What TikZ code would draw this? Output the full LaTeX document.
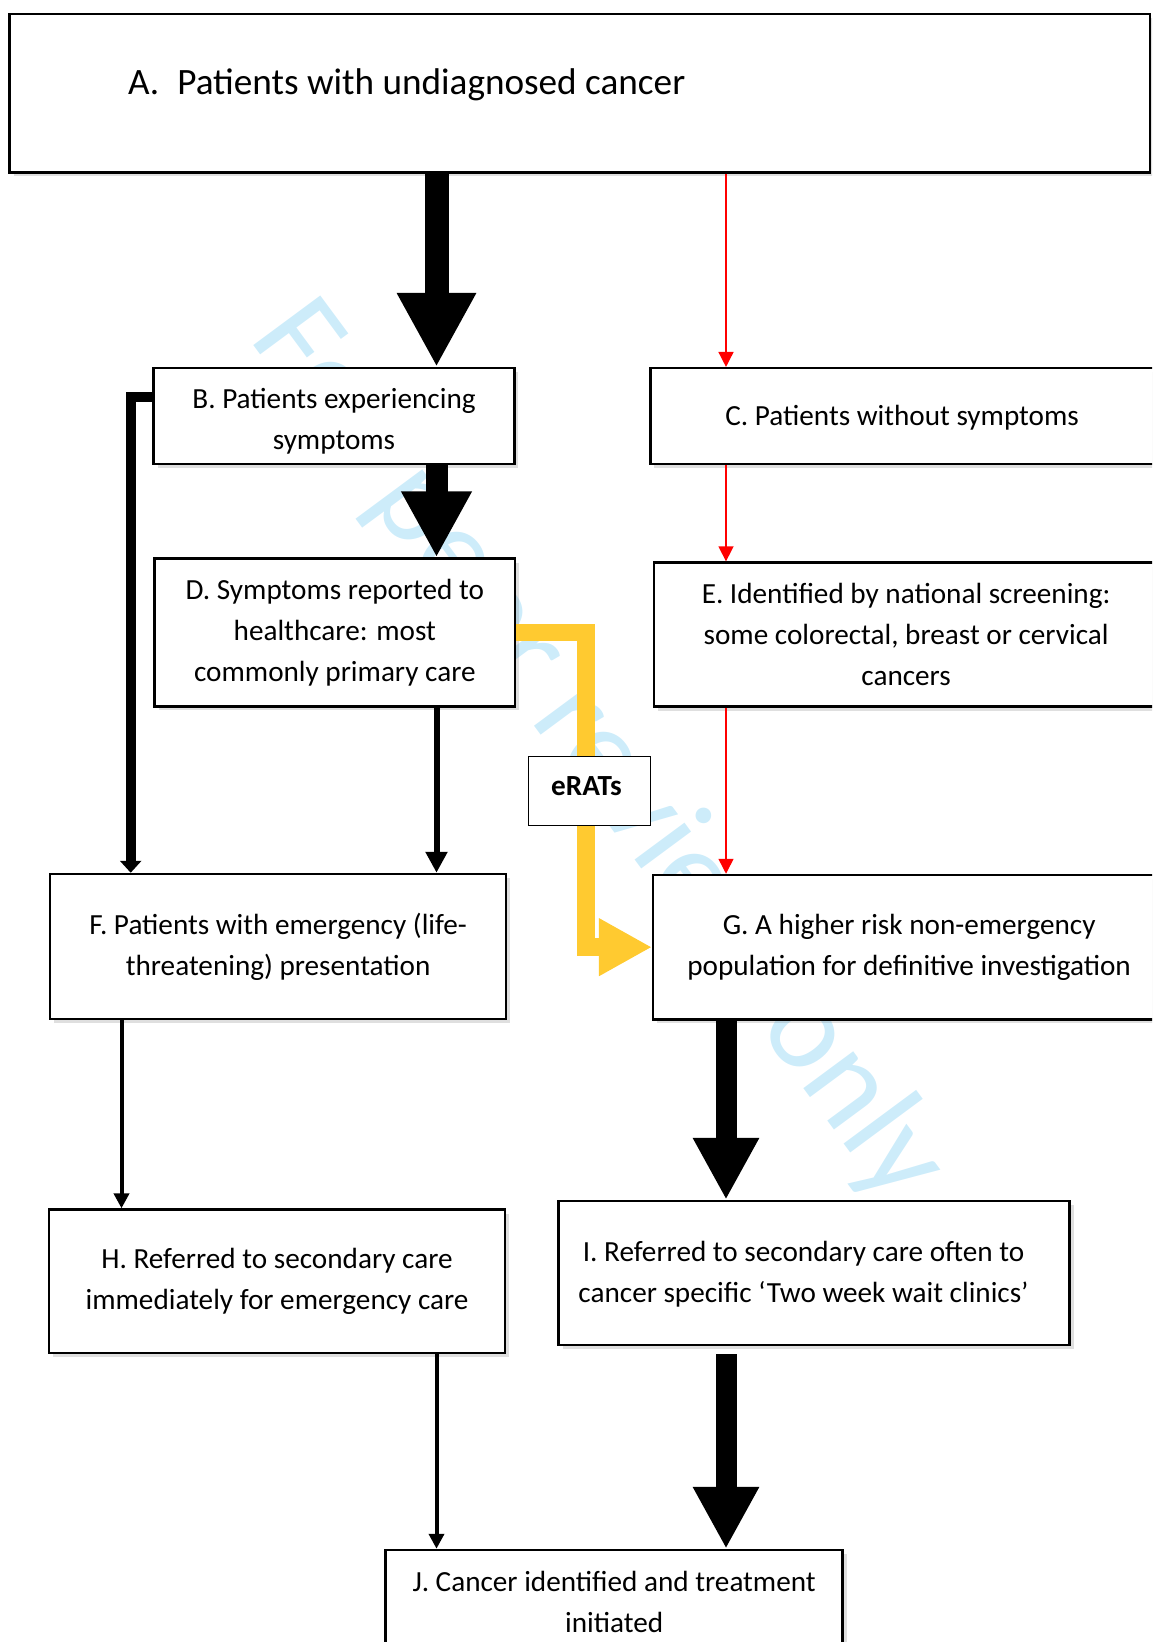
\documentclass[tikz,border=0pt]{standalone}
\usepackage{fontspec}
\setmainfont{Carlito}
\usetikzlibrary{arrows.meta, shadows}

\begin{document}
\begin{tikzpicture}[x=0.5pt, y=-0.5pt,
  box/.style={draw=black, line width=1.25pt, fill=white, inner sep=0pt,
    drop shadow={shadow xshift=2pt, shadow yshift=-2pt, opacity=0.25}},
  box_text/.style={align=center, inner sep=0pt, font=\fontsize{14.6pt}{20.4pt}\selectfont},
  big_arrow/.style 2 args={draw=black, line width=#1, -{Triangle[length=#2, width=#2]}},
  thin_arrow/.style 2 args={draw=black, line width=#1, -{Triangle[length=#2, width=#2]}},
  red_arrow/.style={draw=red, line width=0.75pt, -{Triangle[length=7.5pt, width=7.5pt]}},
  yellow_arrow/.style={draw=my_yellow, line width=8.85pt, -{Triangle[length=26.5pt, width=27pt]}}]
\definecolor{my_yellow}{RGB}{255,202,48}
\definecolor{my_blue}{RGB}{205,236,250}
\useasboundingbox (0,0) rectangle (1152,1642);
\clip (0,0) rectangle (1152,1642);
% watermark, under the boxes
\node[rotate=-53.5, anchor=base west, inner sep=0pt, text=my_blue, font=\fontsize{65pt}{65pt}\selectfont] (watermark) at (248,338) {For peer review only};
% boxes
\node[box, minimum width=570.25pt, minimum height=79.15pt] (a) at (579.75,93.15) {};
\node[box, minimum width=180.3pt, minimum height=48pt] (b) at (334,416.2) {};
\node[box, minimum width=251.85pt, minimum height=48pt] (c) at (902.15,416.2) {};
\node[box, minimum width=180.15pt, minimum height=73.85pt] (d) at (334.85,632.45) {};
\node[box, minimum width=251.9pt, minimum height=71.95pt] (e) at (906.1,634.55) {};
\node[box, minimum width=228.1pt, minimum height=72.6pt] (f) at (278.1,946.6) {};
\node[box, minimum width=255.9pt, minimum height=72.15pt] (g) at (909.1,947.15) {};
\node[box, minimum width=227.8pt, minimum height=71.75pt] (h) at (277,1281.35) {};
\node[box, minimum width=255.5pt, minimum height=72pt] (i) at (814.2,1273) {};
\node[box, minimum width=228.5pt, minimum height=51.8pt] (j) at (614.2,1601.8) {};
% texts
\node[box_text, anchor=west, font=\fontsize{18.6pt}{24pt}\selectfont] (a_text) at (127.8,85) {A.\hspace{9pt}Patients with undiagnosed cancer};
\node[box_text] (b_text) at (334,421.5) {B. Patients experiencing\\symptoms};
\node[box_text] (c_text) at (902.15,418) {C. Patients without symptoms};
\node[box_text] (d_text) at (d) {D. Symptoms reported to\\healthcare: most\\commonly primary care};
\node[box_text] (e_text) at (e) {E. Identified by national screening:\\some colorectal, breast or cervical\\cancers};
\node[box_text] (f_text) at (f) {F. Patients with emergency (life-\\threatening) presentation};
\node[box_text] (g_text) at (g) {G. A higher risk non-emergency\\population for definitive investigation};
\node[box_text] (h_text) at (h) {H. Referred to secondary care\\immediately for emergency care};
\node[box_text] (i_text) at (803.5,1274) {I. Referred to secondary care often to\\cancer specific ‘Two week wait clinics’};
\node[box_text] (j_text) at (j) {J. Cancer identified and treatment\\initiated};
% columns of the connectors
\coordinate (main_x) at (436.5,0);
\coordinate (right_x) at (726,0);
\coordinate (left_x) at (130.7,0);
\coordinate (far_left_x) at (121.5,0);
\coordinate (yellow_x) at (586,0);
% connectors
\draw[big_arrow={12pt}{37pt}] (a.south -| main_x) -- (b.north -| main_x);
\draw[big_arrow={11pt}{33pt}] (b.south -| main_x) -- (d.north -| main_x);
\draw[red_arrow] (a.south -| right_x) -- (c.north -| right_x);
\draw[red_arrow] (c.south -| right_x) -- (e.north -| right_x);
\draw[red_arrow] (e.south -| right_x) -- (g.north -| right_x);
\draw[line width=5pt, -{Triangle[length=6pt, width=10.5pt]}] ([yshift=9.85pt]b.west) -| (f.north -| left_x);
\draw[thin_arrow={3pt}{10.5pt}] (d.south -| main_x) -- (f.north -| main_x);
\draw[yellow_arrow] (d.east) -- (d.east -| yellow_x) |- (g.west);
\node[draw=black, line width=0.5pt, fill=white, minimum width=61pt, minimum height=34.15pt] (erats) at (589.3,790.85) {};
\node[box_text, font=\fontsize{14.6pt}{20.4pt}\selectfont\bfseries] (erats_text) at (586.5,786) {eRATs};
\draw[thin_arrow={2pt}{7.5pt}] (f.south -| far_left_x) -- (h.north -| far_left_x);
\draw[big_arrow={10.5pt}{31pt}] (g.south -| right_x) -- (i.north -| right_x);
\draw[thin_arrow={2pt}{7.5pt}] (h.south -| main_x) -- (j.north -| main_x);
\draw[big_arrow={10.5pt}{31pt}, shorten <=4pt] (i.south -| right_x) -- (j.north -| right_x);
\end{tikzpicture}
\end{document}
